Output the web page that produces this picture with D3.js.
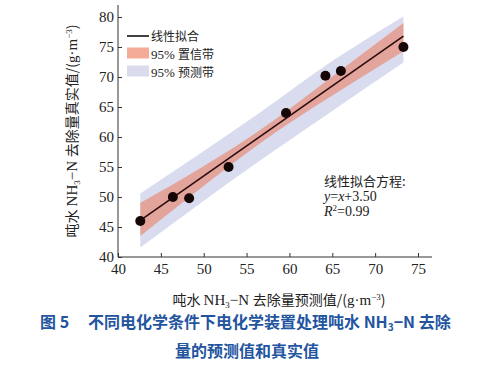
<!DOCTYPE html>
<html><head><meta charset="utf-8">
<script src="https://cdn.jsdelivr.net/npm/d3@7"></script>
<style>body{margin:0;background:#fff}</style>
</head><body>
<svg id="c" width="481" height="366"></svg>
<script>
// Data
const predicted = [42.6, 46.4, 48.3, 52.9, 59.6, 64.2, 66.0, 73.3];
const actual    = [46.0, 50.0, 49.8, 55.0, 64.0, 70.2, 71.0, 75.0];
const fitX      = [42.6, 73.3];
const fitY      = [46.1, 76.8];
const bandX     = [42.6, 49.5, 56.7, 65.0, 73.3];
const confLow   = [43.5, 51.3, 59.1, 66.9, 74.3];
const confHigh  = [49.0, 54.7, 61.3, 70.1, 79.0];
const predLow   = [41.6, 48.85, 56.2, 64.35, 72.4];
const predHigh  = [50.6, 57.15, 64.2, 72.65, 80.1];
const xTicks = [40, 45, 50, 55, 60, 65, 70, 75];
const yTicks = [40, 45, 50, 55, 60, 65, 70, 75, 80];

const svg = d3.select("#c");
const x = d3.scaleLinear().domain([40, 75]).range([118, 418]);
const y = d3.scaleLinear().domain([40, 80]).range([257, 17]);
const serif = "'Liberation Serif','DejaVu Serif',serif";
const cjk = "'Noto Sans CJK SC','Noto Sans',sans-serif";

function band(lo, hi){
  return d3.area().x((d,i)=>x(bandX[i])).y0((d,i)=>y(lo[i])).y1((d,i)=>y(hi[i])).curve(d3.curveMonotoneX)(bandX);
}
svg.append("path").attr("d", band(predLow, predHigh)).attr("fill", "#d9dcef");
svg.append("path").attr("d", band(confLow, confHigh)).attr("fill", "#e8866f").attr("fill-opacity", 0.65);

svg.append("line").attr("x1", x(fitX[0])).attr("y1", y(fitY[0])).attr("x2", x(fitX[1])).attr("y2", y(fitY[1]))
  .attr("stroke", "#2a0c0c").attr("stroke-width", 1.6);

svg.selectAll("circle.pt").data(predicted).join("circle").attr("class","pt")
  .attr("cx", d=>x(d)).attr("cy", (d,i)=>y(actual[i])).attr("r", 5).attr("fill", "#150707");

// axes
const xa = svg.append("g").attr("transform","translate(0,257)")
  .call(d3.axisBottom(x).tickValues(xTicks).tickSize(-4).tickPadding(6).tickSizeOuter(0));
xa.select(".domain").attr("d", "M118,0H432");
const ya = svg.append("g").attr("transform","translate(118,0)")
  .call(d3.axisLeft(y).tickValues(yTicks).tickSize(-4).tickPadding(4).tickSizeOuter(0));
ya.select(".domain").attr("d", "M0,5V257");
svg.selectAll(".tick text").attr("font-family", serif).attr("font-size", 15).attr("fill", "#222");
svg.selectAll(".domain, .tick line").attr("stroke", "#333").attr("stroke-width", 1);

// legend
const lg = svg.append("g").attr("font-size", 12).attr("fill", "#222");
lg.append("line").attr("x1",127).attr("x2",149).attr("y1",36).attr("y2",36).attr("stroke","#111").attr("stroke-width",1.6);
lg.append("rect").attr("x",127).attr("y",47.5).attr("width",22).attr("height",11).attr("fill","#f5ac96");
lg.append("rect").attr("x",127).attr("y",65.5).attr("width",22).attr("height",11).attr("fill","#dadcee");
const legendNames = [["","线性拟合"],["95% ","置信带"],["95% ","预测带"]];
legendNames.forEach((n,i)=>{
  const t = lg.append("text").attr("x",151).attr("y",40.5+i*18);
  if(n[0]) t.append("tspan").attr("font-family", serif).attr("font-size",13).text(n[0]);
  t.append("tspan").attr("font-family", cjk).text(n[1]);
});

// equation
const eq = svg.append("g").attr("fill","#222");
eq.append("text").attr("x",324).attr("y",186).attr("font-family",cjk).attr("font-size",13).text("线性拟合方程:");
const e2 = eq.append("text").attr("x",324).attr("y",201).attr("font-family",serif).attr("font-size",14);
e2.append("tspan").attr("font-style","italic").text("y");
e2.append("tspan").text("=");
e2.append("tspan").attr("font-style","italic").text("x");
e2.append("tspan").text("+3.50");
const e3 = eq.append("text").attr("x",324).attr("y",216).attr("font-family",serif).attr("font-size",14);
e3.append("tspan").attr("font-style","italic").text("R");
e3.append("tspan").attr("font-size",9).attr("dy",-5).text("2");
e3.append("tspan").attr("dy",5).text("=0.99");

// axis titles
function axisTitle(t){
  t.append("tspan").attr("font-family",cjk).text("吨水 ");
  t.append("tspan").attr("font-family",serif).attr("font-size",15).text("NH");
  t.append("tspan").attr("font-family",serif).attr("font-size",9).attr("dy",3).text("3");
  t.append("tspan").attr("font-family",serif).attr("font-size",15).attr("dy",-3).text("−N ");
}
const xt = svg.append("text").attr("x",279).attr("y",305).attr("text-anchor","middle").attr("font-size",14).attr("fill","#222");
axisTitle(xt);
xt.append("tspan").attr("font-family",cjk).text("去除量预测值/(");
xt.append("tspan").attr("font-family",serif).attr("font-size",15).text("g·m");
xt.append("tspan").attr("font-family",serif).attr("font-size",9).attr("dy",-5).text("−3");
xt.append("tspan").attr("font-family",cjk).attr("dy",5).text(")");

const yt = svg.append("text").attr("transform","translate(77,131) rotate(-90)").attr("text-anchor","middle").attr("font-size",14).attr("fill","#222");
axisTitle(yt);
yt.append("tspan").attr("font-family",cjk).text("去除量真实值/(");
yt.append("tspan").attr("font-family",serif).attr("font-size",15).text("g·m");
yt.append("tspan").attr("font-family",serif).attr("font-size",9).attr("dy",-5).text("−3");
yt.append("tspan").attr("font-family",cjk).attr("dy",5).text(")");

// caption
const cap = svg.append("g").attr("fill","#23559f").attr("font-family",cjk).attr("font-weight","bold").attr("font-size",16);
const c1 = cap.append("text").attr("x",40).attr("y",328);
c1.append("tspan").text("图 5");
c1.append("tspan").attr("x",88).text("不同电化学条件下电化学装置处理吨水 NH");
c1.append("tspan").attr("font-size",10).attr("dy",3).text("3");
c1.append("tspan").attr("dy",-3).text("−N 去除");
cap.append("text").attr("x",247).attr("y",357).attr("text-anchor","middle").text("量的预测值和真实值");
</script>
</body></html>
